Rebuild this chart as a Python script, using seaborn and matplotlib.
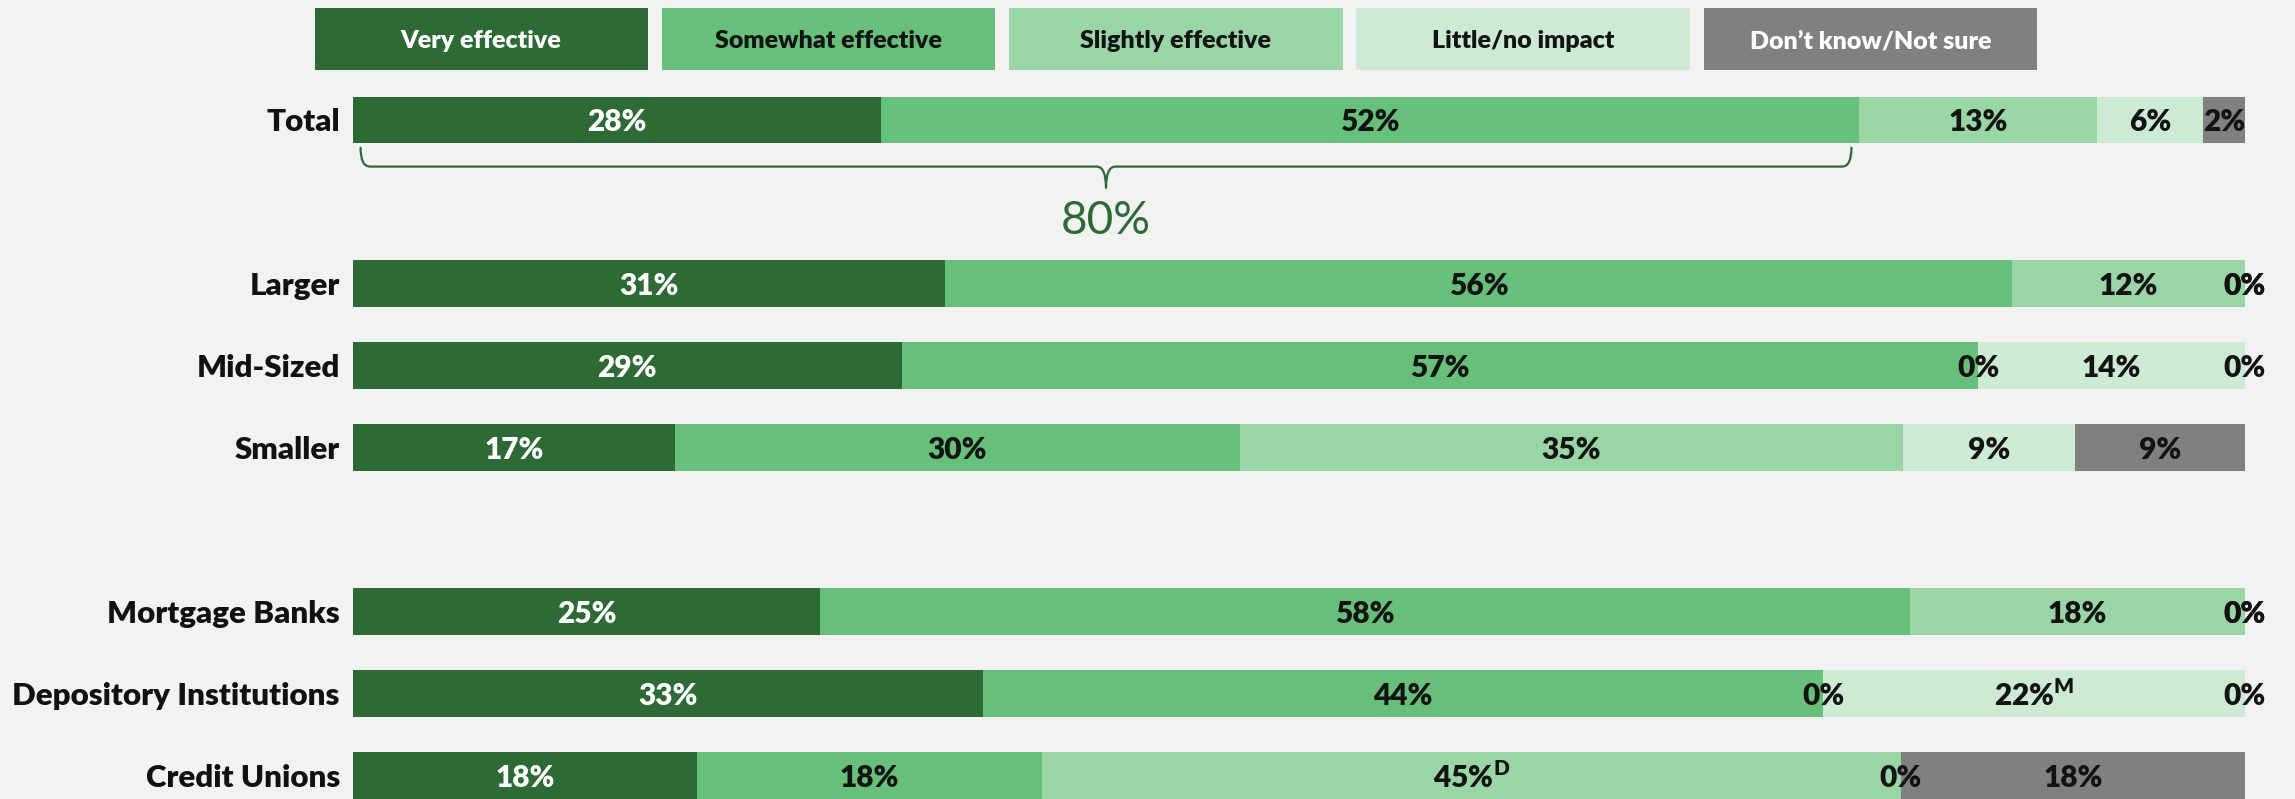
import matplotlib
matplotlib.use("Agg")
import numpy as np
import pandas as pd
import matplotlib.pyplot as plt
import seaborn as sns
from matplotlib.path import Path
from matplotlib.patches import PathPatch, Rectangle

# ---- data -------------------------------------------------------------
groups = ["Total", "Larger", "Mid-Sized", "Smaller",
          "Mortgage Banks", "Depository Institutions", "Credit Unions"]
responses = ["Very effective", "Somewhat effective", "Slightly effective",
             "Little/no impact", "Don\u2019t know/Not sure"]

very_effective     = [27.9, 31.3, 29.0, 17.0, 24.7, 33.3, 18.2]
somewhat_effective = [51.7, 56.4, 56.9, 29.9, 57.6, 44.4, 18.2]
slightly_effective = [12.6, 12.3, 0.0, 35.0, 17.7, 0.0, 45.4]
little_no_impact   = [5.6, 0.0, 14.1, 9.1, 0.0, 22.3, 0.0]
dont_know          = [2.2, 0.0, 0.0, 9.0, 0.0, 0.0, 18.2]

# significance markers attached to single cells
note_groups    = ["Depository Institutions", "Credit Unions"]
note_responses = ["Little/no impact", "Slightly effective"]
note_marks     = ["M", "D"]

# row layout: blank rows separate the three blocks
row_order = ["Total", " ", "Larger", "Mid-Sized", "Smaller", "  ",
             "Mortgage Banks", "Depository Institutions", "Credit Unions"]

colors = ["#2D6A36", "#66C07A", "#9AD5A6", "#CCEAD4", "#808080"]
text_colors = ["white", "#131313", "#131313", "#131313", "#131313"]
legend_text_colors = ["white", "#131313", "#131313", "#131313", "white"]
BG = "#F2F2F2"
WEIGHT = "heavy"

# ---- frame ------------------------------------------------------------
values = pd.DataFrame(
    np.array([very_effective, somewhat_effective, slightly_effective,
              little_no_impact, dont_know]).T,
    index=groups, columns=responses)
cum = values.cumsum(axis=1)

sns.set_theme(style="white")
plt.rcParams["font.family"] = ["Lato", "DejaVu Sans"]
plt.rcParams["mathtext.fontset"] = "custom"
plt.rcParams["mathtext.bf"] = "Lato:heavy"
plt.rcParams["mathtext.rm"] = "Lato:heavy"

fig = plt.figure(figsize=(22.95, 7.99), dpi=100, facecolor=BG)
ax = fig.add_axes([353 / 2295, 0.0, 1892 / 2295, 1.0])
ax.set_facecolor(BG)

# stacked bars: draw cumulative totals from the outermost segment inwards
for resp, col in reversed(list(zip(responses, colors))):
    d = pd.DataFrame({"group": groups, "cum": cum[resp].values})
    sns.barplot(data=d, x="cum", y="group", order=row_order, orient="h",
                color=col, saturation=1, width=0.57, linewidth=0,
                errorbar=None, legend=False, ax=ax)

ax.set_xlim(0, 100)
ax.set_ylim(8.29, -120 / 82)
for s in ax.spines.values():
    s.set_visible(False)
ax.set_xlabel("")
ax.set_ylabel("")
ax.set_xticks([])
ax.tick_params(axis="y", length=0, pad=9.5, labelsize=22.5, labelcolor="#111111")
for lbl in ax.get_yticklabels():
    lbl.set_fontweight(WEIGHT)

# segment value labels
for g in groups:
    y = row_order.index(g)
    for j, resp in enumerate(responses):
        v = values.loc[g, resp]
        x = cum.loc[g, resp] - v / 2
        txt = f"{v:.0f}%"
        for ng, nr, nm in zip(note_groups, note_responses, note_marks):
            if ng == g and nr == resp:
                txt += r"$^{\mathbf{" + nm + "}}$"
        ax.text(x, y, txt, ha="center", va="center_baseline", fontsize=21.5,
                fontweight=WEIGHT, color=text_colors[j], zorder=5)

# brace under the two "effective" segments of the Total row
top2 = cum.loc["Total", "Somewhat effective"]
x0, x1, mid = 0.4, top2 - 0.4, top2 / 2
y_top, y_line, y_tip = 0.34, 0.57, 0.83
r = 0.5
verts = [(x0, y_top), (x0, y_line), (x0 + r, y_line),
         (mid - r, y_line), (mid, y_line), (mid, y_tip),
         (mid, y_line), (mid + r, y_line),
         (x1 - r, y_line), (x1, y_line), (x1, y_top)]
codes = [Path.MOVETO, Path.CURVE3, Path.CURVE3,
         Path.LINETO, Path.CURVE3, Path.CURVE3,
         Path.CURVE3, Path.CURVE3,
         Path.LINETO, Path.CURVE3, Path.CURVE3]
ax.add_patch(PathPatch(Path(verts, codes), facecolor="none",
                       edgecolor="#2D6A36", linewidth=1.6,
                       capstyle="round", joinstyle="round"))
ax.text(mid, 1.24, f"{top2:.0f}%", ha="center", va="center",
        fontsize=33, color="#2D6A36")

# legend boxes along the top
for i, (resp, col, tc) in enumerate(zip(responses, colors, legend_text_colors)):
    left = (314.5 + i * 347.3) / 2295
    w = 333.5 / 2295
    bottom = 1 - 70 / 799
    h = 62 / 799
    fig.patches.append(Rectangle((left, bottom), w, h, transform=fig.transFigure,
                                 facecolor=col, edgecolor="none"))
    fig.text(left + w / 2, bottom + h / 2, resp, ha="center", va="center_baseline",
             fontsize=18, fontweight=WEIGHT, color=tc)

fig.savefig("out.png", dpi=100, facecolor=BG)
